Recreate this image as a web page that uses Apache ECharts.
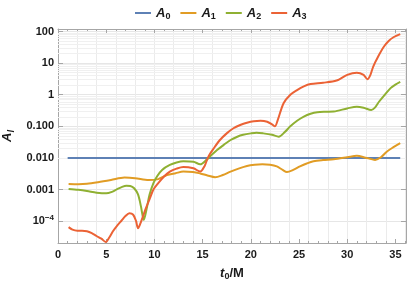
<!DOCTYPE html>
<html>
<head>
<meta charset="utf-8">
<script src="https://cdn.jsdelivr.net/npm/echarts@6/dist/echarts.min.js"></script>
<style>html,body{margin:0;padding:0;background:#fff}#c{width:415px;height:281px}</style>
</head>
<body>
<div id="c"></div>
<script>
var seriesNames = ['A0', 'A1', 'A2', 'A3'];
var a0T = [1.0, 10.0, 20.0, 30.0, 35.5];
var a0V = [0.01, 0.01, 0.01, 0.01, 0.01];
var a1T = [1.1, 2.1, 3.0, 4.15, 5.5, 6.9, 8.0, 9.4, 10.4, 11.3, 12.2, 13.0, 14.0, 14.75, 15.5, 16.3, 17.1, 17.9, 18.8, 19.6, 20.4, 21.2, 22.0, 22.7, 23.3, 23.75, 24.4, 25.1, 25.8, 26.5, 27.5, 28.6, 30.0, 31.0, 31.9, 32.5, 32.9, 33.5, 34.1, 34.8, 35.5];
var a1V = [0.00151, 0.00148, 0.00152, 0.0017, 0.002, 0.0024, 0.0023, 0.002, 0.00214, 0.00288, 0.0033, 0.0037, 0.0036, 0.00324, 0.0028, 0.00245, 0.0029, 0.0037, 0.0047, 0.0056, 0.0061, 0.0063, 0.0061, 0.0054, 0.0042, 0.0036, 0.0042, 0.0054, 0.0067, 0.0079, 0.0086, 0.0091, 0.0105, 0.0117, 0.0102, 0.0092, 0.0087, 0.0105, 0.0158, 0.022, 0.0295];
var a2T = [1.1, 2.1, 3.0, 4.0, 5.0, 5.6, 6.1, 6.6, 7.1, 7.5, 7.9, 8.3, 8.6, 8.9, 9.2, 9.5, 9.9, 10.3, 10.8, 11.6, 12.3, 13.0, 14.05, 14.75, 15.4, 16.0, 16.5, 17.2, 17.9, 18.6, 19.2, 20.0, 20.6, 21.3, 22.2, 22.9, 23.5, 24.1, 24.8, 25.5, 26.2, 26.9, 27.8, 28.6, 30.0, 31.0, 31.7, 32.5, 32.9, 33.3, 33.9, 34.5, 35.0, 35.5];
var a2V = [0.00105, 0.00098, 0.0009, 0.0008, 0.00076, 0.00085, 0.00102, 0.0012, 0.00132, 0.0013, 0.0011, 0.0007, 0.0003, 0.00011, 0.00025, 0.0007, 0.0016, 0.0027, 0.0042, 0.006, 0.0072, 0.0079, 0.0076, 0.0063, 0.0087, 0.013, 0.0178, 0.026, 0.037, 0.047, 0.054, 0.06, 0.063, 0.06, 0.054, 0.047, 0.065, 0.1, 0.15, 0.204, 0.25, 0.28, 0.29, 0.295, 0.37, 0.42, 0.39, 0.33, 0.4, 0.6, 1.0, 1.62, 2.1, 2.57];
var a3T = [1.1, 1.5, 2.0, 2.5, 3.0, 3.5, 4.0, 4.5, 4.95, 5.3, 5.7, 6.1, 6.6, 7.0, 7.4, 7.8, 8.1, 8.3, 8.55, 8.8, 9.1, 9.5, 9.9, 10.4, 11.0, 11.6, 12.3, 13.0, 14.05, 14.75, 15.2, 15.6, 16.2, 16.8, 17.5, 18.2, 18.9, 19.6, 20.3, 21.0, 21.7, 22.2, 22.5, 22.8, 23.4, 24.1, 24.8, 25.5, 26.2, 27.5, 28.9, 30.0, 31.0, 31.7, 32.1, 32.4, 32.7, 33.2, 33.8, 34.3, 34.8, 35.5];
var a3V = [6.5e-5, 5.4e-5, 5.0e-5, 5.0e-5, 4.8e-5, 4.2e-5, 3.4e-5, 2.8e-5, 2.2e-5, 3.0e-5, 4.8e-5, 7.0e-5, 1.05e-4, 1.45e-4, 1.78e-4, 1.6e-4, 1.0e-4, 6.0e-5, 8.5e-5, 1.38e-4, 2.5e-4, 5e-4, 0.001, 0.0016, 0.0026, 0.0037, 0.0046, 0.0052, 0.0047, 0.0037, 0.0055, 0.011, 0.021, 0.037, 0.06, 0.087, 0.11, 0.13, 0.145, 0.15, 0.14, 0.115, 0.10, 0.16, 0.54, 1.0, 1.41, 1.85, 2.19, 2.4, 2.82, 4.27, 5.0, 4.27, 3.1, 4.2, 7.8, 16, 33, 50, 66, 83];
var yTickLabels = {'-4': '10{sup|−4}', '-3': '0.001', '-2': '0.010', '-1': '0.100', '0': '1', '1': '10', '2': '100'};
var xLabelStep = 5;

function pairs(t, v) { return t.map(function (x, i) { return [x, v[i]]; }); }
var colors = ['#5E81B5', '#E19C24', '#8FB032', '#EB6235'];
var yMin = Math.pow(10, -4.69), yMax = Math.pow(10, 2.08);

var minorGrid = [];
for (var e = -5; e <= 2; e++) {
  for (var k = 2; k <= 9; k++) {
    var val = k * Math.pow(10, e);
    if (val > yMin && val < yMax) minorGrid.push({ yAxis: val });
  }
}

var font = 'Liberation Sans, Arial, sans-serif';
var labelStyle = { color: '#1a1a1a', fontSize: 11, fontWeight: 'bold', fontFamily: font };
var frameLine = { show: true, onZero: false, lineStyle: { color: '#a6a6a6', width: 1 } };

var chart = echarts.init(document.getElementById('c'), null, { renderer: 'canvas' });
var datas = [pairs(a0T, a0V), pairs(a1T, a1V), pairs(a2T, a2V), pairs(a3T, a3V)];
var series = seriesNames.map(function (n, i) {
  return {
    name: n, type: 'line', data: datas[i], xAxisIndex: 0, yAxisIndex: 0,
    smooth: i === 0 ? false : 0.3, showSymbol: false, symbol: 'none',
    lineStyle: { color: colors[i], width: 2 },
    itemStyle: { color: colors[i] }, z: 10 + i
  };
});
series.push({
  type: 'line', data: [], xAxisIndex: 0, yAxisIndex: 0, silent: true, z: 1,
  markLine: { silent: true, symbol: 'none', label: { show: false },
    lineStyle: { color: '#f0f0f0', type: 'solid', width: 1 }, data: minorGrid, animation: false }
});

chart.setOption({
  animation: false,
  color: colors,
  grid: { left: 58, right: 9, top: 29, bottom: 38, containLabel: false, outerBoundsMode: 'none' },
  legend: {
    data: seriesNames, left: 130, top: 0, icon: 'rect', itemWidth: 16, itemHeight: 2, itemGap: 10,
    formatter: function (n) { return '{a|' + n.charAt(0) + '}{s|' + n.slice(1) + '}'; },
    textStyle: {
      rich: {
        a: { fontSize: 13, fontWeight: 'bold', fontStyle: 'italic', fontFamily: font, color: '#1a1a1a', lineHeight: 16 },
        s: { fontSize: 9, fontWeight: 'bold', fontFamily: font, color: '#1a1a1a', lineHeight: 16, verticalAlign: 'bottom', padding: [7, 0, 0, 0] }
      }
    }
  },
  xAxis: [
    { type: 'value', position: 'bottom', min: 0, max: 36.1, interval: xLabelStep,
      axisLine: frameLine, axisTick: { show: true, inside: true, length: 4, lineStyle: { color: '#a6a6a6' } },
      minorTick: { show: true, splitNumber: 5, length: 2, lineStyle: { color: '#a6a6a6' } },
      axisLabel: Object.assign({ margin: 6, showMaxLabel: false }, labelStyle), splitLine: { show: false },
      name: '{i|t}{s|0}{n|/M}', nameLocation: 'middle', nameGap: 22,
      nameTextStyle: { rich: {
        i: { fontSize: 13, fontWeight: 'bold', fontStyle: 'italic', fontFamily: font, color: '#1a1a1a', lineHeight: 16 },
        s: { fontSize: 9, fontWeight: 'bold', fontFamily: font, color: '#1a1a1a', lineHeight: 16, verticalAlign: 'bottom', padding: [7, 0, 0, 0] },
        n: { fontSize: 13, fontWeight: 'bold', fontFamily: font, color: '#1a1a1a', lineHeight: 16 }
      } } },
    { type: 'value', position: 'top', min: 0, max: 36.1, interval: xLabelStep,
      axisLine: frameLine, axisTick: { show: true, inside: true, length: 4, lineStyle: { color: '#a6a6a6' } },
      minorTick: { show: true, splitNumber: 5, length: 2, lineStyle: { color: '#a6a6a6' } },
      axisLabel: { show: false }, splitLine: { show: false } },
    { type: 'value', position: 'bottom', min: 0, max: 36.1, interval: 2,
      axisLine: { show: false, onZero: false }, axisTick: { show: false }, axisLabel: { show: false },
      splitLine: { show: true, lineStyle: { color: '#ebebeb', width: 1 } } }
  ],
  yAxis: [
    { type: 'log', logBase: 10, min: yMin, max: yMax, position: 'left',
      axisLine: frameLine, axisTick: { show: true, inside: true, length: 5, lineStyle: { color: '#a6a6a6' } },
      splitLine: { show: true, lineStyle: { color: '#e6e6e6', width: 1 } },
      axisLabel: Object.assign({ margin: 4, showMinLabel: false, showMaxLabel: false,
        formatter: function (v) { var e = Math.round(Math.log10(v)); var l = yTickLabels[String(e)]; return l === undefined ? '' : l; },
        rich: { sup: { fontSize: 8, fontWeight: 'bold', fontFamily: font, color: '#1a1a1a', verticalAlign: 'top', padding: [0, 0, 6, 0] } } }, labelStyle),
      name: '{a|A}{s|l}', nameLocation: 'middle', nameGap: 38, nameRotate: 90,
      nameTextStyle: { rich: {
        a: { fontSize: 13, fontWeight: 'bold', fontStyle: 'italic', fontFamily: font, color: '#1a1a1a', lineHeight: 16 },
        s: { fontSize: 9, fontWeight: 'bold', fontStyle: 'italic', fontFamily: font, color: '#1a1a1a', lineHeight: 16, verticalAlign: 'bottom', padding: [7, 0, 0, 0] }
      } } },
    { type: 'log', logBase: 10, min: yMin, max: yMax, position: 'right',
      axisLine: frameLine, axisTick: { show: true, inside: true, length: 5, lineStyle: { color: '#a6a6a6' } },
      splitLine: { show: false }, axisLabel: { show: false } }
  ],
  series: series
});
</script>
</body>
</html>
